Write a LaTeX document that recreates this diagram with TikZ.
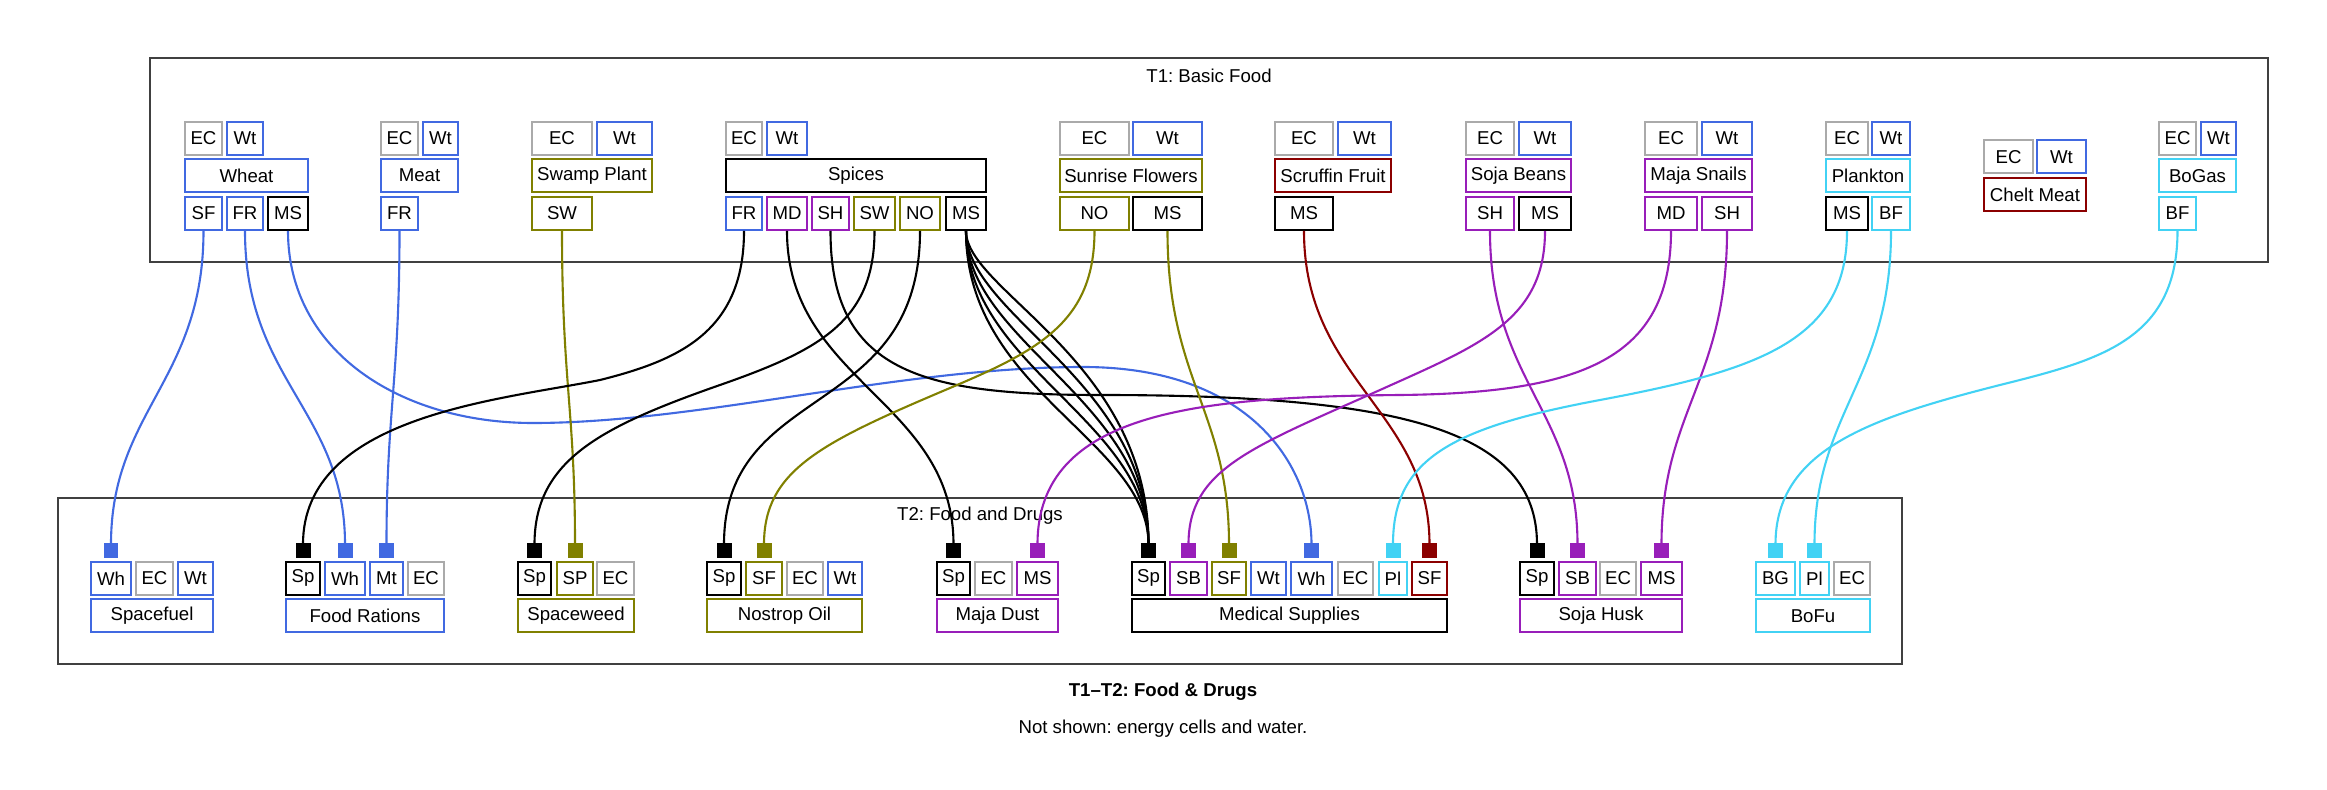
\documentclass[tikz,border=0pt]{standalone}
\usepackage{fontspec}
\setmainfont{Liberation Sans}
\usepackage{xcolor}
\usetikzlibrary{arrows.meta}
\frenchspacing

\definecolor{ecgrey}{RGB}{170,170,170}
\definecolor{wtblue}{RGB}{65,105,225}
\definecolor{olivec}{RGB}{128,128,0}
\definecolor{purplec}{RGB}{152,30,185}
\definecolor{redc}{RGB}{139,0,0}
\definecolor{cyanc}{RGB}{66,210,244}

\tikzset{
    cell/.style={draw, line width=1.25pt, minimum height=0.66cm, inner sep=0pt, font=\fontsize{10.6}{12}\selectfont},
    flow/.style={line width=1.2pt, -{Square[length=0.3cm,width=0.3cm]}, shorten >=0.05cm},
    cluster/.style={draw=black!75, line width=0.8pt},
    lbl/.style={inner sep=0pt, font=\fontsize{10.6}{12}\selectfont}
}

% name, colour, left, right, centre y, text
\newcommand\cellbox[6]{%
    \pgfmathsetmacro\cellw{(#4-#3-2)*0.02}%
    \node[cell, draw=#2, minimum width=\cellw cm] (#1) at ({(#3+#4)/2}, #5) {#6};}

\begin{document}
\begin{tikzpicture}[x=0.02cm, y=-0.02cm]
    \useasboundingbox (0,0) rectangle (2327,790);

    % clusters
    \draw[cluster] (150,58) rectangle (2268,262);
    \draw[cluster] (58,498) rectangle (1902,664);
    \node[lbl] (t1label) at (1209,76) {T1: Basic Food};
    \node[lbl] (t2label) at (980,516) {T2: Food and Drugs};

    % T1 products
    \cellbox{whEC}{ecgrey}{184}{223}{138.4}{EC}
    \cellbox{whWt}{wtblue}{226}{264}{138.4}{Wt}
    \cellbox{wheat}{wtblue}{184}{309}{175.6}{Wheat}
    \cellbox{whSF}{wtblue}{184}{223}{213.4}{SF}
    \cellbox{whFR}{wtblue}{226}{264}{213.4}{FR}
    \cellbox{whMS}{black}{267}{309}{213.4}{MS}

    \cellbox{mtEC}{ecgrey}{380}{419}{138.4}{EC}
    \cellbox{mtWt}{wtblue}{422}{459}{138.4}{Wt}
    \cellbox{meat}{wtblue}{380}{459}{175.6}{Meat}
    \cellbox{mtFR}{wtblue}{380}{419}{213.4}{FR}

    \cellbox{swpEC}{ecgrey}{531}{593}{138.4}{EC}
    \cellbox{swpWt}{wtblue}{596}{653}{138.4}{Wt}
    \cellbox{swamp}{olivec}{531}{653}{175.6}{Swamp Plant}
    \cellbox{swpSW}{olivec}{531}{593}{213.4}{SW}

    \cellbox{spiEC}{ecgrey}{725}{763}{138.4}{EC}
    \cellbox{spiWt}{wtblue}{766}{808}{138.4}{Wt}
    \cellbox{spices}{black}{725}{987}{175.6}{Spices}
    \cellbox{spiFR}{wtblue}{725}{763}{213.4}{FR}
    \cellbox{spiMD}{purplec}{766}{808}{213.4}{MD}
    \cellbox{spiSH}{purplec}{811}{850}{213.4}{SH}
    \cellbox{spiSW}{olivec}{853}{896}{213.4}{SW}
    \cellbox{spiNO}{olivec}{899}{941}{213.4}{NO}
    \cellbox{spiMS}{black}{945}{987}{213.4}{MS}

    \cellbox{sunEC}{ecgrey}{1059}{1130}{138.4}{EC}
    \cellbox{sunWt}{wtblue}{1132}{1203}{138.4}{Wt}
    \cellbox{sunrise}{olivec}{1059}{1203}{175.6}{Sunrise Flowers}
    \cellbox{sunNO}{olivec}{1059}{1130}{213.4}{NO}
    \cellbox{sunMS}{black}{1132}{1203}{213.4}{MS}

    \cellbox{scrEC}{ecgrey}{1274}{1334}{138.4}{EC}
    \cellbox{scrWt}{wtblue}{1337}{1392}{138.4}{Wt}
    \cellbox{scruffin}{redc}{1274}{1392}{175.6}{Scruffin Fruit}
    \cellbox{scrMS}{black}{1274}{1334}{213.4}{MS}

    \cellbox{sbEC}{ecgrey}{1465}{1515}{138.4}{EC}
    \cellbox{sbWt}{wtblue}{1518}{1572}{138.4}{Wt}
    \cellbox{sojabeans}{purplec}{1465}{1572}{175.6}{Soja Beans}
    \cellbox{sbSH}{purplec}{1465}{1515}{213.4}{SH}
    \cellbox{sbMS}{black}{1518}{1572}{213.4}{MS}

    \cellbox{msnEC}{ecgrey}{1644}{1698}{138.4}{EC}
    \cellbox{msnWt}{wtblue}{1701}{1753}{138.4}{Wt}
    \cellbox{snails}{purplec}{1644}{1753}{175.6}{Maja Snails}
    \cellbox{msnMD}{purplec}{1644}{1698}{213.4}{MD}
    \cellbox{msnSH}{purplec}{1701}{1753}{213.4}{SH}

    \cellbox{plaEC}{ecgrey}{1825}{1869}{138.4}{EC}
    \cellbox{plaWt}{wtblue}{1871}{1911}{138.4}{Wt}
    \cellbox{plankton}{cyanc}{1825}{1911}{175.6}{Plankton}
    \cellbox{plaMS}{black}{1825}{1869}{213.4}{MS}
    \cellbox{plaBF}{cyanc}{1871}{1911}{213.4}{BF}

    \cellbox{cheEC}{ecgrey}{1983}{2034}{156.8}{EC}
    \cellbox{cheWt}{wtblue}{2036}{2087}{156.8}{Wt}
    \cellbox{chelt}{redc}{1983}{2087}{194.5}{Chelt Meat}

    \cellbox{bogEC}{ecgrey}{2158}{2197}{138.4}{EC}
    \cellbox{bogWt}{wtblue}{2200}{2237}{138.4}{Wt}
    \cellbox{bogas}{cyanc}{2158}{2237}{175.6}{BoGas}
    \cellbox{bogBF}{cyanc}{2158}{2197}{213.4}{BF}

    % T2 products
    \cellbox{sfuWh}{wtblue}{90}{132}{578.3}{Wh}
    \cellbox{sfuEC}{ecgrey}{135}{174}{578.3}{EC}
    \cellbox{sfuWt}{wtblue}{177}{214}{578.3}{Wt}
    \cellbox{spacefuel}{wtblue}{90}{214}{615.8}{Spacefuel}

    \cellbox{frSp}{black}{285}{321}{578.3}{Sp}
    \cellbox{frWh}{wtblue}{324}{366}{578.3}{Wh}
    \cellbox{frMt}{wtblue}{369}{404}{578.3}{Mt}
    \cellbox{frEC}{ecgrey}{407}{445}{578.3}{EC}
    \cellbox{rations}{wtblue}{285}{445}{615.8}{Food Rations}

    \cellbox{swdSp}{black}{517}{552}{578.3}{Sp}
    \cellbox{swdSP}{olivec}{556}{594}{578.3}{SP}
    \cellbox{swdEC}{ecgrey}{596}{635}{578.3}{EC}
    \cellbox{spaceweed}{olivec}{517}{635}{615.8}{Spaceweed}

    \cellbox{noSp}{black}{706}{742}{578.3}{Sp}
    \cellbox{noSF}{olivec}{745}{783}{578.3}{SF}
    \cellbox{noEC}{ecgrey}{786}{824}{578.3}{EC}
    \cellbox{noWt}{wtblue}{827}{863}{578.3}{Wt}
    \cellbox{nostrop}{olivec}{706}{863}{615.8}{Nostrop Oil}

    \cellbox{mdSp}{black}{936}{971}{578.3}{Sp}
    \cellbox{mdEC}{ecgrey}{974}{1013}{578.3}{EC}
    \cellbox{mdMS}{purplec}{1016}{1059}{578.3}{MS}
    \cellbox{majadust}{purplec}{936}{1059}{615.8}{Maja Dust}

    \cellbox{medSp}{black}{1131}{1166}{578.3}{Sp}
    \cellbox{medSB}{purplec}{1169}{1208}{578.3}{SB}
    \cellbox{medSFo}{olivec}{1211}{1247}{578.3}{SF}
    \cellbox{medWt}{wtblue}{1250}{1287}{578.3}{Wt}
    \cellbox{medWh}{wtblue}{1290}{1333}{578.3}{Wh}
    \cellbox{medEC}{ecgrey}{1337}{1374}{578.3}{EC}
    \cellbox{medPl}{cyanc}{1378}{1408}{578.3}{Pl}
    \cellbox{medSFr}{redc}{1411}{1448}{578.3}{SF}
    \cellbox{medical}{black}{1131}{1448}{615.8}{Medical Supplies}

    \cellbox{shSp}{black}{1519}{1555}{578.3}{Sp}
    \cellbox{shSB}{purplec}{1558}{1597}{578.3}{SB}
    \cellbox{shEC}{ecgrey}{1599}{1637}{578.3}{EC}
    \cellbox{shMS}{purplec}{1640}{1683}{578.3}{MS}
    \cellbox{husk}{purplec}{1519}{1683}{615.8}{Soja Husk}

    \cellbox{bofuBG}{cyanc}{1755}{1796}{578.3}{BG}
    \cellbox{bofuPl}{cyanc}{1799}{1830}{578.3}{Pl}
    \cellbox{bofuEC}{ecgrey}{1833}{1871}{578.3}{EC}
    \cellbox{bofu}{cyanc}{1755}{1871}{615.8}{BoFu}

    % flows
    \draw[flow, wtblue] (whSF.south) .. controls +(0,150) and +(0,-150) .. (sfuWh.north);
    \draw[flow, wtblue] (whFR.south) .. controls +(0,150) and +(0,-150) .. (frWh.north);
    \draw[flow, wtblue] (whMS.south) .. controls +(0,120) and (400,423) .. (533,423)
        .. controls (700,423) and (900,367) .. (1083,367)
        .. controls (1250,367) and +(0,-95) .. (medWh.north);
    \draw[flow, wtblue] (mtFR.south) .. controls +(0,150) and +(0,-150) .. (frMt.north);
    \draw[flow, olivec] (swpSW.south) .. controls +(0,150) and +(0,-150) .. (swdSP.north);

    \draw[flow] (spiFR.south) .. controls +(0,100) and (680,360) .. (600,380)
        .. controls (500,400) and +(0,-145) .. (frSp.north);
    \draw[flow] (spiMD.south) .. controls +(0,150) and +(0,-160) .. (mdSp.north);
    \draw[flow] (spiSH.south) .. controls +(0,140) and (920,395) .. (1100,395)
        .. controls (1400,395) and +(0,-131) .. (shSp.north);
    \draw[flow] (spiSW.south) .. controls +(0,90) and (820,350) .. (720,385)
        .. controls (600,427) and +(0,-100) .. (swdSp.north);
    \draw[flow] (spiNO.south) .. controls +(0,190) and +(0,-180) .. (noSp.north);
    \foreach \i in {0,...,4}
        \draw[flow] (spiMS.south) .. controls +(0,{60+25*\i}) and +(0,{-200+20*\i}) .. (medSp.north);

    \draw[flow, olivec] (sunNO.south) .. controls +(0,90) and (1040,350) .. (950,388)
        .. controls (820,443) and +(0,-90) .. (noSF.north);
    \draw[flow, olivec] (sunMS.south) .. controls +(0,150) and +(0,-150) .. (medSFo.north);
    \draw[flow, redc] (scrMS.south) .. controls +(0,150) and +(0,-150) .. (medSFr.north);

    \draw[flow, purplec] (sbSH.south) .. controls +(0,150) and +(0,-150) .. (shSB.north);
    \draw[flow, purplec] (sbMS.south) .. controls +(0,89) and (1480,345) .. (1380,390)
        .. controls (1250,448) and +(0,-91) .. (medSB.north);
    \draw[flow, purplec] (msnMD.south) .. controls +(0,129) and (1580,393) .. (1400,395)
        .. controls (1200,397) and +(0,-150) .. (mdMS.north);
    \draw[flow, purplec] (msnSH.south) .. controls +(0,150) and +(0,-150) .. (shMS.north);

    \draw[flow, cyanc] (plaMS.south) .. controls +(0,109) and (1760,370) .. (1600,400)
        .. controls (1450,428) and +(0,-101) .. (medPl.north);
    \draw[flow, cyanc] (plaBF.south) .. controls +(0,150) and +(0,-150) .. (bofuPl.north);
    \draw[flow, cyanc] (bogBF.south) .. controls +(0,109) and (2100,360) .. (2000,385)
        .. controls (1870,418) and +(0,-111) .. (bofuBG.north);

    % caption
    \node[lbl, font=\fontsize{10.6}{12}\selectfont\bfseries] (title) at (1163,692) {T1--T2: Food \& Drugs};
    \node[lbl] (note) at (1163,729) {Not shown: energy cells and water.};
\end{tikzpicture}
\end{document}
